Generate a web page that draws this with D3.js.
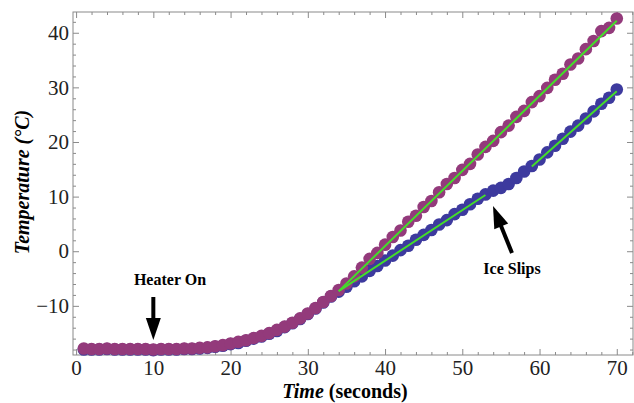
<!DOCTYPE html>
<html>
<head>
<meta charset="utf-8">
<script src="https://cdn.jsdelivr.net/npm/d3@7"></script>
<style>
  body { margin: 0; background: #fff; }
  text { font-family: "Liberation Serif", "Times New Roman", serif; }
</style>
</head>
<body>
<svg id="chart" width="634" height="403"></svg>
<script>
// time in seconds
const time = [1, 2, 3, 4, 5, 6, 7, 8, 9, 10, 11, 12, 13, 14, 15, 16, 17, 18, 19, 20,
  21, 22, 23, 24, 25, 26, 27, 28, 29, 30, 31, 32, 33, 34, 35, 36, 37, 38, 39, 40,
  41, 42, 43, 44, 45, 46, 47, 48, 49, 50, 51, 52, 53, 54, 55, 56, 57, 58, 59, 60,
  61, 62, 63, 64, 65, 66, 67, 68, 69, 70];

// blue thermometer
const tempBlue = [-18.0, -18.0, -18.0, -17.9, -18.0, -18.0, -18.0, -18.0, -18.0, -18.1,
  -18.0, -18.0, -18.0, -17.9, -17.9, -17.8, -17.7, -17.5, -17.3, -17.0,
  -16.8, -16.4, -16.0, -15.6, -15.1, -14.6, -13.9, -13.2, -12.4, -11.5,
  -10.5, -9.4, -8.3, -7.4, -6.5, -5.5, -4.6, -3.6, -2.7, -1.7,
  -0.8, 0.2, 1.0, 2.1, 3.0, 3.9, 4.9, 5.7, 6.8, 7.6,
  8.6, 9.6, 10.4, 11.1, 11.6, 12.3, 13.4, 14.6, 15.6, 16.8,
  18.1, 19.3, 20.6, 21.9, 23.0, 24.3, 25.6, 27.0, 28.1, 29.6];

// purple thermometer
const tempPurple = [-17.8, -17.9, -17.9, -17.8, -17.9, -17.9, -17.9, -17.9, -17.9, -18.0,
  -17.9, -17.9, -17.9, -17.8, -17.8, -17.7, -17.6, -17.4, -17.2, -16.9,
  -16.6, -16.3, -15.9, -15.5, -15.0, -14.4, -13.8, -13.1, -12.3, -11.4,
  -10.4, -9.3, -8.2, -7.1, -5.9, -4.6, -3.0, -1.4, -0.3, 1.2,
  2.6, 3.8, 5.4, 6.5, 8.1, 9.2, 10.8, 12.3, 13.4, 14.9,
  16.0, 17.7, 19.1, 20.2, 21.8, 23.0, 24.6, 25.7, 27.3, 28.4,
  29.9, 31.4, 32.5, 34.2, 35.3, 37.0, 38.5, 40.3, 40.9, 42.6];

// linear fits: [start, end]
const fitPurpleT = [34, 70], fitPurpleY = [-7.3, 42.2];
const fitBlue1T = [34, 53], fitBlue1Y = [-7.3, 10.3];
const fitBlue2T = [59, 70], fitBlue2Y = [15.5, 29.3];

const xMajor = [0, 10, 20, 30, 40, 50, 60, 70];
const yMajor = [-10, 0, 10, 20, 30, 40];

const svg = d3.select("#chart");
const frame = { left: 73, right: 633, top: 12, bottom: 355 };

const x = d3.scaleLinear().domain([-0.4, 72.1]).range([frame.left, frame.right]);
const y = d3.scaleLinear().domain([-19.0, 43.8]).range([frame.bottom, frame.top]);

const xMinor = d3.range(0, 72.1, 2).filter((v) => v % 10 !== 0);
const yMinor = d3.range(-18, 43.8, 2).filter((v) => v % 10 !== 0);

const frameColor = "#8a8a8a";

function styleAxis(g, labels) {
  g.attr("font-family", "Liberation Serif, serif");
  g.select(".domain").remove();
  g.selectAll("line").attr("stroke", frameColor);
  if (labels) {
    g.selectAll("text").attr("font-size", 21).attr("fill", "#222");
  } else {
    g.selectAll("text").remove();
  }
}

// bottom
svg.append("g").attr("transform", `translate(0,${frame.bottom})`)
  .call(d3.axisBottom(x).tickValues(xMajor).tickSize(-6).tickPadding(5).tickFormat(d3.format("d")))
  .call((g) => styleAxis(g, true));
svg.append("g").attr("transform", `translate(0,${frame.bottom})`)
  .call(d3.axisBottom(x).tickValues(xMinor).tickSize(-3))
  .call((g) => styleAxis(g, false));
// top
svg.append("g").attr("transform", `translate(0,${frame.top})`)
  .call(d3.axisTop(x).tickValues(xMajor).tickSize(-6))
  .call((g) => styleAxis(g, false));
svg.append("g").attr("transform", `translate(0,${frame.top})`)
  .call(d3.axisTop(x).tickValues(xMinor).tickSize(-3))
  .call((g) => styleAxis(g, false));
// left
svg.append("g").attr("transform", `translate(${frame.left},0)`)
  .call(d3.axisLeft(y).tickValues(yMajor).tickSize(-6).tickPadding(4).tickFormat(d3.format("d")))
  .call((g) => styleAxis(g, true));
svg.append("g").attr("transform", `translate(${frame.left},0)`)
  .call(d3.axisLeft(y).tickValues(yMinor).tickSize(-3))
  .call((g) => styleAxis(g, false));
// right
svg.append("g").attr("transform", `translate(${frame.right},0)`)
  .call(d3.axisRight(y).tickValues(yMajor).tickSize(-6))
  .call((g) => styleAxis(g, false));
svg.append("g").attr("transform", `translate(${frame.right},0)`)
  .call(d3.axisRight(y).tickValues(yMinor).tickSize(-3))
  .call((g) => styleAxis(g, false));

svg.append("rect")
  .attr("x", frame.left).attr("y", frame.top)
  .attr("width", frame.right - frame.left).attr("height", frame.bottom - frame.top)
  .attr("fill", "none").attr("stroke", frameColor).attr("stroke-width", 1);

// points
svg.append("g").selectAll("circle")
  .data(time).join("circle")
  .attr("cx", (d) => x(d))
  .attr("cy", (d, i) => y(tempBlue[i]))
  .attr("r", 6.3)
  .attr("fill", "#3d3a9e");

svg.append("g").selectAll("circle")
  .data(time).join("circle")
  .attr("cx", (d) => x(d))
  .attr("cy", (d, i) => y(tempPurple[i]))
  .attr("r", 6.3)
  .attr("fill", "#933a7b");

// fits
const line = d3.line().x((d) => x(d[0])).y((d) => y(d[1]));
[[fitPurpleT, fitPurpleY], [fitBlue1T, fitBlue1Y], [fitBlue2T, fitBlue2Y]].forEach(([t, v]) => {
  svg.append("path")
    .attr("d", line(d3.zip(t, v)))
    .attr("stroke", "#44dd2a")
    .attr("stroke-width", 2)
    .attr("fill", "none");
});

// annotations
svg.append("text")
  .attr("x", 170).attr("y", 285)
  .attr("text-anchor", "middle")
  .attr("font-size", 16).attr("font-weight", "bold")
  .text("Heater On");

function arrow(x1, y1, x2, y2) {
  const a = Math.atan2(y2 - y1, x2 - x1);
  const len = Math.hypot(x2 - x1, y2 - y1);
  const g = svg.append("g")
    .attr("transform", `translate(${x1},${y1}) rotate(${a * 180 / Math.PI})`);
  g.append("line").attr("x1", 0).attr("y1", 0).attr("x2", len - 18).attr("y2", 0)
    .attr("stroke", "#000").attr("stroke-width", 4);
  g.append("path")
    .attr("d", `M${len},0 L${len - 22},-7.5 L${len - 22},7.5 Z`)
    .attr("fill", "#000");
}
arrow(x(10), 297, x(10), 340);
arrow(512, 253, 493, 206);

svg.append("text")
  .attr("x", 512).attr("y", 274)
  .attr("text-anchor", "middle")
  .attr("font-size", 16).attr("font-weight", "bold")
  .text("Ice Slips");

// axis titles
const xt = svg.append("text")
  .attr("x", 345).attr("y", 398)
  .attr("text-anchor", "middle")
  .attr("font-size", 20).attr("font-weight", "bold");
xt.append("tspan").attr("font-style", "italic").text("Time");
xt.append("tspan").text(" (seconds)");

svg.append("text")
  .attr("transform", "translate(29,182) rotate(-90)")
  .attr("text-anchor", "middle")
  .attr("font-size", 20).attr("font-weight", "bold").attr("font-style", "italic")
  .text("Temperature (°C)");
</script>
</body>
</html>
